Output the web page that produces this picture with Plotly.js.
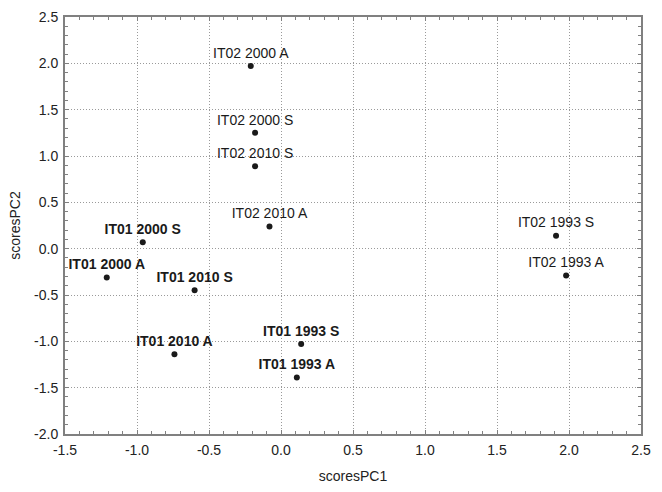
<!DOCTYPE html>
<html>
<head>
<meta charset="utf-8">
<script src="https://cdn.plot.ly/plotly-3.0.1.min.js"></script>
<style>
  html, body { margin: 0; padding: 0; background: #fff; }
  #chart { width: 662px; height: 492px; }
</style>
</head>
<body>
<div id="chart"></div>
<script>
// IT01 samples (bold labels)
var it01Labels = ['IT01 2000 S', 'IT01 2000 A', 'IT01 2010 S', 'IT01 2010 A', 'IT01 1993 S', 'IT01 1993 A'];
var it01X = [-0.96, -1.21, -0.60, -0.74, 0.14, 0.11];
var it01Y = [0.07, -0.31, -0.45, -1.14, -1.03, -1.39];

// IT02 samples
var it02Labels = ['IT02 2000 A', 'IT02 2000 S', 'IT02 2010 S', 'IT02 2010 A', 'IT02 1993 S', 'IT02 1993 A'];
var it02X = [-0.21, -0.18, -0.18, -0.08, 1.91, 1.98];
var it02Y = [1.97, 1.25, 0.89, 0.24, 0.14, -0.29];

var xTicks = [-1.5, -1.0, -0.5, 0.0, 0.5, 1.0, 1.5, 2.0, 2.5];
var xTickText = ['-1.5', '-1.0', '-0.5', '0.0', '0.5', '1.0', '1.5', '2.0', '2.5'];
var yTicks = [-2.0, -1.5, -1.0, -0.5, 0.0, 0.5, 1.0, 1.5, 2.0, 2.5];
var yTickText = ['-2.0', '-1.5', '-1.0', '-0.5', '0.0', '0.5', '1.0', '1.5', '2.0', '2.5'];

var fontFam = 'Liberation Sans, Arial, sans-serif';

var trace1 = {
  type: 'scatter',
  mode: 'markers+text',
  x: it01X,
  y: it01Y,
  text: it01Labels.map(function (l) { return '<b>' + l + '</b>'; }),
  textposition: 'top center',
  textfont: { family: fontFam, size: 14, color: '#1a1a1a' },
  marker: { size: 6, color: '#1a1a1a' },
  cliponaxis: false
};

var trace2 = {
  type: 'scatter',
  mode: 'markers+text',
  x: it02X,
  y: it02Y,
  text: it02Labels,
  textposition: 'top center',
  textfont: { family: fontFam, size: 14, color: '#1a1a1a' },
  marker: { size: 6, color: '#1a1a1a' },
  cliponaxis: false
};

function axis(vals, txt, title, standoff) {
  return {
    range: [vals[0], vals[vals.length - 1]],
    tickvals: vals,
    ticktext: txt,
    ticks: 'inside',
    ticklen: 4,
    tickcolor: '#808080',
    ticklabelstandoff: 2,
    showline: true,
    linecolor: '#808080',
    linewidth: 2,
    mirror: 'ticks',
    showgrid: true,
    gridcolor: '#9a9a9a',
    griddash: '1px,2px',
    gridwidth: 1,
    zeroline: false,
    minor: { dtick: 0.1, ticks: 'inside', ticklen: 3, tickcolor: '#808080', showgrid: false },
    tickfont: { family: fontFam, size: 14, color: '#222' },
    title: { text: title, font: { family: fontFam, size: 14, color: '#222' }, standoff: standoff }
  };
}

var layout = {
  width: 662,
  height: 492,
  margin: { l: 65, r: 21, t: 17, b: 58 },
  paper_bgcolor: '#fff',
  plot_bgcolor: '#fff',
  showlegend: false,
  xaxis: axis(xTicks, xTickText, 'scoresPC1', 14),
  yaxis: axis(yTicks, yTickText, 'scoresPC2', 10)
};

Plotly.newPlot('chart', [trace1, trace2], layout, { displayModeBar: false, staticPlot: true });
</script>
</body>
</html>
